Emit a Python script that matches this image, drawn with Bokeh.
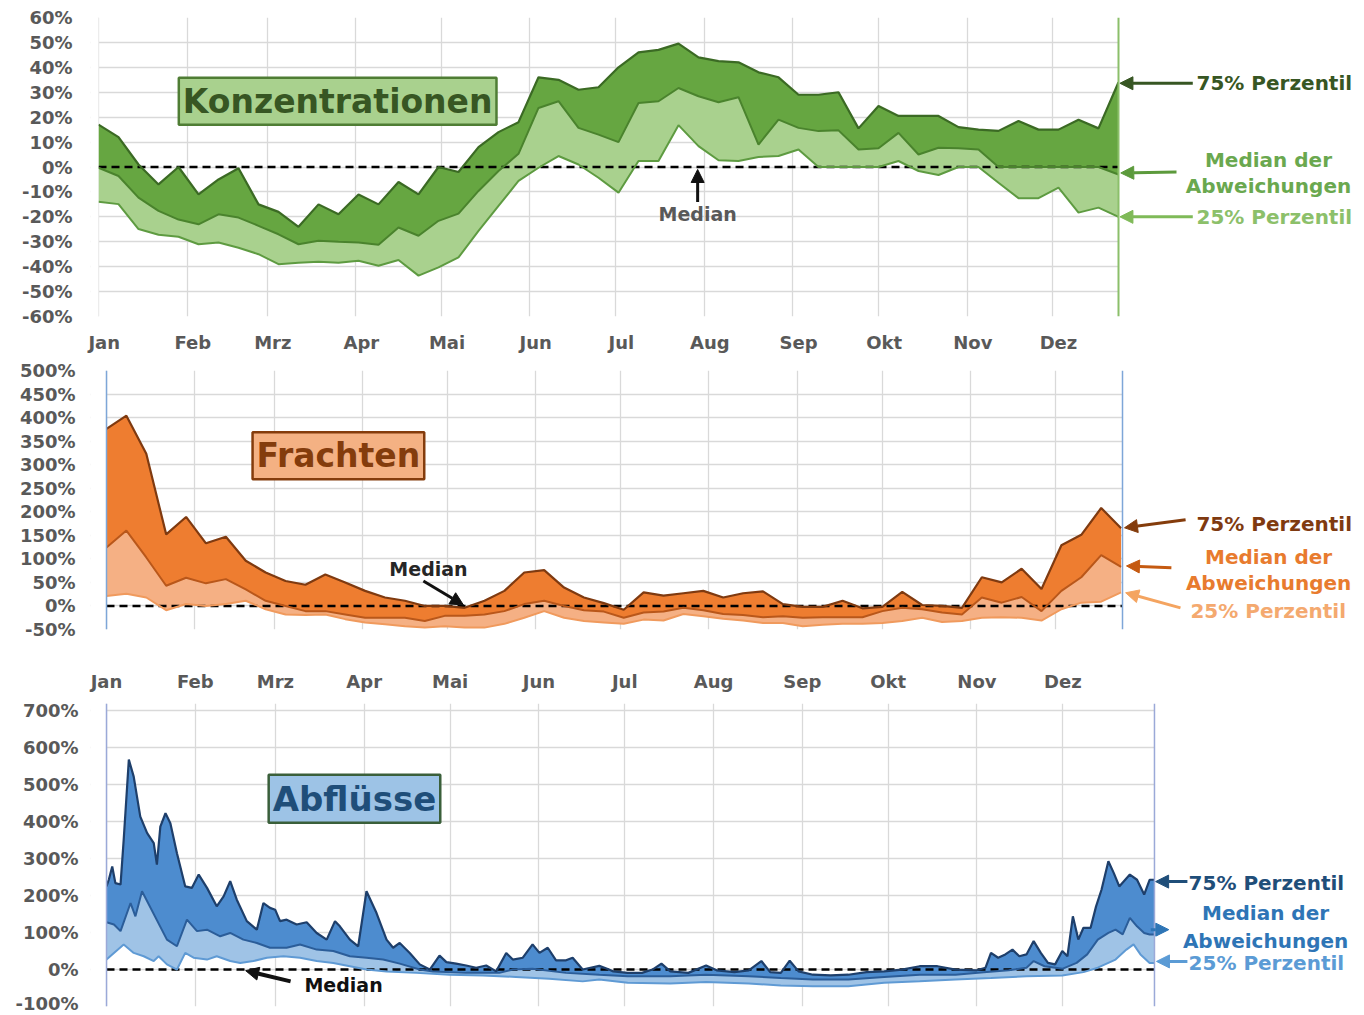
from bokeh.plotting import figure
from bokeh.layouts import column
from bokeh.models import (FixedTicker, PrintfTickFormatter, Label, Arrow, NormalHead, Range1d, Span,
                          BoxAnnotation)
from bokeh.embed import file_html
from bokeh.resources import INLINE

# ---------------- data ----------------
MONTHS = ["Jan", "Feb", "Mrz", "Apr", "Mai", "Jun", "Jul", "Aug", "Sep", "Okt", "Nov", "Dez"]
MONTH_START = [0, 31, 59, 90, 120, 151, 181, 212, 243, 273, 304, 334]

WEEKS = list(range(52))            # weekly values, week k -> day 7*k

konz_p75 = [17, 12, 1, -7, 0, -11, -5, -0.5, -15, -18, -24, -15, -19, -11, -15, -6, -11, 0, -2, 8,
            14, 18, 36, 35, 31, 32, 40, 46, 47, 49.5, 44, 42.5, 42, 38, 36, 29, 29, 30, 15.5, 24.5,
            20.5, 20.5, 20.5, 16, 15, 14.5, 18.5, 15, 15, 19, 15.5, 34]
konz_med = [-0.3, -3.6, -12.3, -17.6, -21.1, -23, -19, -20.3, -23.6, -27, -31, -29.6, -30, -30.3,
            -31.2, -24.3, -27.6, -21.6, -18.7, -9.6, -1.6, 5.3, 23.7, 26.4, 15.7, 13, 10, 25.7, 26.4,
            31.7, 28.4, 26, 28, 9, 19, 15.7, 14.4, 14.7, 7, 7.5, 13.7, 5, 7.7, 7.5, 7, 0, 0, 0, 0, 0,
            0, -3]
konz_p25 = [-13.9, -14.9, -24.9, -27.2, -28, -31, -30.3, -32.4, -35, -39, -38.4, -38, -38.4, -37.6,
            -39.6, -37.3, -43.6, -40.3, -36.3, -25.6, -15.6, -5.6, -0.3, 4.4, 1, -4.3, -10.3, 2.4, 2.4,
            16.8, 8.4, 2.7, 2.4, 4, 4.4, 7, 0, 0, 0, 0, 2.4, -1.6, -3.2, 0, 0, -6.3, -12.5, -12.5,
            -8.3, -18.3, -16.3, -20]

fr_p75 = [376, 404, 323, 152, 189, 133, 147, 96, 71, 53, 45, 67, 50, 32, 18, 11, 0, 0, -4, 11,
          32, 71, 76, 39, 18, 6, -8, 29, 22, 27, 32, 18, 27, 31, 4, -2, -2, 11, -5, -2,
          30, 2, 0, -4, 61, 50, 79, 36, 129, 151, 208, 165]
fr_med = [124, 160, 103, 43, 60, 48, 57, 35, 11, 0, -11, -11, -18, -25, -25, -25, -32, -21, -21, -18,
          -11, 4, 11, 0, -9, -12, -25, -14, -12, -4, -9, -17, -19, -24, -22, -25, -24, -24, -24, -11,
          -4, -7, -14, -18, 18, 7, 19, -11, 32, 61, 108, 83]
fr_p25 = [21, 26, 18, -9, 4, 0, 4, 11, -7, -18, -19, -18, -28, -35, -39, -43, -46, -43, -46, -46,
          -38, -25, -11, -25, -32, -35, -38, -29, -31, -17, -22, -27, -31, -36, -36, -43, -40, -38, -38, -36,
          -32, -25, -34, -32, -25, -24, -25, -31, -7, 7, 9, 29]

# daily discharge deviations (day of year, value in %)
ab_p75_day = [0, 0.8, 2.0, 3.1, 4.9, 6.0, 7.8, 9.5, 11.8, 14.2, 16.5, 17.6, 18.8, 20.6, 22.3, 24.6,
              27.5, 29.8, 32.2, 35.1, 38.5, 40.9, 43.2, 45.5, 49.0, 52.5, 54.8, 57.1, 58.9, 60.6,
              62.9, 66.4, 69.9, 73.4, 76.9, 79.8, 81.5, 85.0, 87.9, 90.8, 94.3, 97.8, 100.1, 102.4,
              105.9, 109.4, 112.9, 116.3, 118.7, 122.1, 125.6, 129.1, 132.6, 136.1, 139.6, 141.9,
              145.4, 148.8, 151.2, 154.1, 157.0, 160.5, 162.8, 166.3, 172.1, 175.5, 177.0, 182.0,
              187.0, 190.7, 193.8, 196.9, 203.2, 209.4, 213.1, 219.3, 224.3, 228.7, 231.8, 235.5,
              238.6, 241.7, 246.7, 252.9, 259.1, 265.4, 271.6, 277.8, 284.0, 290.2, 296.5, 303.9,
              307.0, 308.9, 311.4, 313.9, 316.4, 318.8, 321.3, 323.8, 326.3, 328.8, 331.3, 333.8,
              335.6, 337.5, 339.4, 341.2, 343.7, 345.6, 347.5, 349.9, 351.8, 353.7, 357.4, 359.9,
              362.4, 364.3, 366]
ab_p75 = [225, 243, 279, 234, 230, 351, 568, 522, 414, 369, 342, 284, 387, 423, 396, 315, 225, 221,
          257, 221, 171, 198, 239, 189, 131, 108, 180, 167, 162, 131, 135, 122, 128, 99, 81, 131,
          117, 81, 63, 212, 153, 81, 59, 72, 45, 14, 0, 38, 20, 16, 11, 5, 11, -5, 45, 27, 32, 68,
          45, 59, 25, 25, 32, 0, 10, 0, -5, -9, -9, 0, 16, -5, -9, 11, -2, -7, -2, 23, -7, -9, 24,
          -5, -14, -16, -14, -7, -5, 0, 9, 9, 0, -2, 5, 45, 32, 41, 54, 36, 41, 77, 45, 18, 14, 50,
          36, 144, 81, 113, 113, 171, 216, 293, 261, 225, 257, 243, 203, 243, 243]
ab_med_day = [0, 2.6, 4.9, 8.4, 10.1, 12.4, 21.1, 24.6, 28.1, 31.6, 35.1, 39.7, 43.2, 47.8, 52.5,
              57.1, 62.9, 67.6, 73.4, 79.2, 85.0, 90.8, 96.6, 102.4, 109.4, 114.0, 125.6, 137.2,
              141.9, 148.8, 160.5, 172.1, 182.0, 196.9, 209.4, 224.3, 235.5, 246.7, 259.1, 271.6,
              284.0, 296.5, 306.4, 315.1, 321.3, 323.8, 327.6, 333.8, 338.8, 342.5, 346.2, 349.9,
              352.4, 354.9, 357.4, 359.9, 362.4, 364.3, 366]
ab_med = [128, 122, 104, 180, 144, 212, 81, 63, 135, 104, 108, 90, 99, 81, 72, 59, 59, 68, 54, 50,
          36, 32, 27, 16, 0, -5, -9, -9, 0, 2, -9, -14, -18, -18, -14, -18, -23, -27, -27, -20,
          -14, -14, -7, -2, 5, 23, 9, 2, 18, 41, 81, 99, 108, 95, 140, 117, 99, 95, 95]
ab_p25_day = [0, 2.6, 6.0, 9.5, 13.0, 16.5, 18.2, 21.1, 24.6, 27.5, 30.4, 35.1, 38.5, 43.2, 46.7,
              51.3, 56.0, 61.8, 67.6, 73.4, 79.2, 85.0, 90.8, 97.8, 108.2, 119.8, 131.4, 143.0,
              154.6, 166.3, 172.1, 182.0, 196.9, 209.4, 224.3, 235.5, 246.7, 259.1, 271.6, 284.0,
              296.5, 308.9, 321.3, 333.8, 341.2, 346.2, 352.4, 356.2, 358.7, 361.1, 364.3, 366]
ab_p25 = [27, 45, 68, 45, 36, 23, 36, 14, 0, 45, 32, 27, 36, 23, 18, 23, 32, 36, 32, 23, 18, 9, 0,
          -5, -9, -14, -16, -20, -25, -32, -27, -36, -38, -34, -38, -43, -45, -45, -36, -32, -27,
          -23, -18, -16, -7, 5, 27, 54, 68, 41, 18, 18]

# ---------------- styling helpers ----------------
FONT = "DejaVu Sans"
TICK_COLOR = "#595959"
GRID_COLOR = "#d9d9d9"
TICK_SIZE = "18px"
SIDE_SIZE = "20px"
W = 1364
LEFT = 90


def make_fig(height, xr, xend, yr, yticks, bt, bb, xloc, ystandoff):
    p = figure(width=W, height=height, x_range=Range1d(*xr), y_range=Range1d(*yr),
               output_backend="svg", toolbar_location=None, x_axis_location=xloc,
               min_border_left=LEFT, min_border_right=0, min_border_top=bt, min_border_bottom=bb)
    p.outline_line_color = None
    yax = p.yaxis[0]
    yax.ticker = FixedTicker(ticks=yticks)
    yax.formatter = PrintfTickFormatter(format="%d%%")
    yax.axis_line_color = None
    yax.major_tick_line_color = None
    yax.major_tick_out = 0
    yax.major_tick_in = 0
    yax.minor_tick_line_color = None
    yax.major_label_text_font = FONT
    yax.major_label_text_font_style = "bold"
    yax.major_label_text_font_size = TICK_SIZE
    yax.major_label_text_color = TICK_COLOR
    yax.major_label_standoff = ystandoff
    p.ygrid.ticker = FixedTicker(ticks=yticks)
    p.ygrid.grid_line_color = GRID_COLOR
    p.ygrid.grid_line_width = 1.3
    p.xgrid.ticker = FixedTicker(ticks=MONTH_START)
    p.xgrid.grid_line_color = GRID_COLOR
    p.xgrid.grid_line_width = 1.3
    # keep the grid only over the year span; the right margin hosts the annotations
    p.add_layout(BoxAnnotation(right=0, fill_color="white", fill_alpha=1, line_alpha=0))
    p.add_layout(BoxAnnotation(left=xend, fill_color="white", fill_alpha=1, line_alpha=0))
    return p


def month_axis(p, offset, standoff):
    ax = p.xaxis[0]
    ticks = [m + offset for m in MONTH_START]
    ax.ticker = FixedTicker(ticks=ticks)
    ax.major_label_overrides = {t: n for t, n in zip(ticks, MONTHS)}
    ax.axis_line_color = None
    ax.major_tick_line_color = None
    ax.major_tick_out = 0
    ax.major_tick_in = 0
    ax.minor_tick_line_color = None
    ax.major_label_text_font = FONT
    ax.major_label_text_font_style = "bold"
    ax.major_label_text_font_size = TICK_SIZE
    ax.major_label_text_color = TICK_COLOR
    ax.major_label_standoff = standoff


def label(p, x, y, text, color, size=SIDE_SIZE, align="left"):
    p.add_layout(Label(x=x, y=y, text=text, text_font=FONT, text_font_style="bold",
                       text_font_size=size, text_color=color, text_align=align,
                       text_baseline="middle"))


def arrow(p, x0, y0, x1, y1, color, width=3, size=13):
    p.add_layout(Arrow(end=NormalHead(size=size, fill_color=color, line_color=color),
                       x_start=x0, y_start=y0, x_end=x1, y_end=y1,
                       line_color=color, line_width=width))


def title_box(p, x, y, text, fill, border, color, size):
    p.add_layout(Label(x=x, y=y, text=text, text_font=FONT, text_font_style="bold",
                       text_font_size=size, text_color=color, text_align="center",
                       text_baseline="middle", background_fill_color=fill,
                       border_line_color=border, border_line_width=2.5, padding=4))


def zero_line(p, xend):
    p.line([0, xend], [0, 0], line_color="black", line_width=2.5, line_dash="8 5")


# ---------------- panel 1: Konzentrationen ----------------
X1END = 357
p1 = make_fig(358, (-2.8, 443.1), X1END, (-60, 60), list(range(-60, 61, 10)), 17, 42, "below", 18)
month_axis(p1, 2, 15)
d1 = [7 * k for k in WEEKS]
p1.varea(x=d1, y1=konz_med, y2=konz_p75, fill_color="#66a641")
p1.varea(x=d1, y1=konz_p25, y2=konz_med, fill_color="#a9d18e")
zero_line(p1, X1END)
p1.line(d1, konz_p25, line_color="#5e9b41", line_width=2)
p1.line(d1, konz_med, line_color="#4a832d", line_width=2)
p1.line(d1, konz_p75, line_color="#3b6a24", line_width=2.2)
p1.add_layout(Span(location=X1END, dimension="height", line_color="#8bbf6a", line_width=2))
title_box(p1, 83.7, 26.4, "Konzentrationen", "#a9d18e", "#4f7d34", "#375623", "33px")
label(p1, 209.7, -18.8, "Median", "#595959", "19px", "center")
arrow(p1, 209.7, -14, 209.7, -1, "#111111")
label(p1, 384.3, 33.6, "75% Perzentil", "#375623")
arrow(p1, 383, 33.6, 357.5, 33.6, "#375623")
label(p1, 409.5, 2.8, "Median der", "#6aa84f", SIDE_SIZE, "center")
label(p1, 409.5, -7.6, "Abweichungen", "#6aa84f", SIDE_SIZE, "center")
arrow(p1, 377.3, -2, 357.8, -2.4, "#5c9a3c")
label(p1, 384.3, -20, "25% Perzentil", "#8cc06a")
arrow(p1, 383, -20, 357.5, -20, "#7fba58")

# ---------------- panel 2: Frachten ----------------
X2END = 357.5
p2 = make_fig(287, (-5.63, 442.65), X2END, (-50, 500), list(range(-50, 501, 50)), 12, 16, None, 15)
d2 = [7 * k for k in WEEKS]
p2.varea(x=d2, y1=fr_med, y2=fr_p75, fill_color="#ee7d30")
p2.varea(x=d2, y1=fr_p25, y2=fr_med, fill_color="#f5b084")
zero_line(p2, X2END)
p2.line(d2, fr_p25, line_color="#f09a5d", line_width=2)
p2.line(d2, fr_med, line_color="#b9571a", line_width=2)
p2.line(d2, fr_p75, line_color="#7f3a10", line_width=2.2)
p2.add_layout(Span(location=0, dimension="height", line_color="#7ea6d8", line_width=1.5))
p2.add_layout(Span(location=X2END, dimension="height", line_color="#7ea6d8", line_width=1.5))
title_box(p2, 81.6, 319, "Frachten", "#f4b183", "#843c0c", "#843c0c", "33px")
label(p2, 113.3, 78.7, "Median", "#262626", "19px", "center")
arrow(p2, 111.5, 53, 125.6, 2, "#111111")
label(p2, 383.5, 174.5, "75% Perzentil", "#7f3a10")
arrow(p2, 379.7, 183, 358.2, 166, "#843c0c")
label(p2, 408.9, 104, "Median der", "#e87b2e", SIDE_SIZE, "center")
label(p2, 408.9, 49, "Abweichungen", "#e87b2e", SIDE_SIZE, "center")
arrow(p2, 374.7, 81, 358.9, 85, "#c55a11")
label(p2, 381.4, -11, "25% Perzentil", "#f4a96f")
arrow(p2, 377.9, -4, 358.6, 28, "#f4a460")

# ---------------- panel 3: Abflüsse ----------------
X3END = 366
p3 = make_fig(368, (-5.59, 439.35), X3END, (-100, 720), list(range(-100, 701, 100)), 58, 7, "above", 12)
month_axis(p3, 0, 12)
p3.patch(ab_p75_day + ab_med_day[::-1], ab_p75 + ab_med[::-1], fill_color="#4d8ccf", line_color=None)
p3.patch(ab_med_day + ab_p25_day[::-1], ab_med + ab_p25[::-1], fill_color="#9fc3e6", line_color=None)
zero_line(p3, X3END)
p3.line(ab_p25_day, ab_p25, line_color="#5f9ad4", line_width=2)
p3.line(ab_med_day, ab_med, line_color="#2b5d99", line_width=2)
p3.line(ab_p75_day, ab_p75, line_color="#1e3f6b", line_width=2.2)
p3.add_layout(Span(location=0, dimension="height", line_color="#9ba9d8", line_width=1.5))
p3.add_layout(Span(location=X3END, dimension="height", line_color="#9ba9d8", line_width=1.5))
title_box(p3, 86.6, 462, "Abflüsse", "#9dc3e6", "#3a5f3a", "#1f4e79", "34px")
label(p3, 82.8, -40.5, "Median", "#111111", "19px", "center")
arrow(p3, 64.3, -32, 48.6, -3, "#111111", 4)
label(p3, 377.9, 235, "75% Perzentil", "#1f4e79")
arrow(p3, 377.5, 238, 366.4, 238, "#1f4e79")
label(p3, 404.8, 154, "Median der", "#2e75b6", SIDE_SIZE, "center")
label(p3, 404.8, 76, "Abweichungen", "#2e75b6", SIDE_SIZE, "center")
arrow(p3, 364.7, 108, 371, 108, "#2e75b6")
label(p3, 377.9, 19, "25% Perzentil", "#5b9bd5")
arrow(p3, 377.5, 22, 366.7, 22, "#5b9bd5")

layout = column(p1, p2, p3, spacing=0)
open("out.html", "w").write(file_html(layout, INLINE))
